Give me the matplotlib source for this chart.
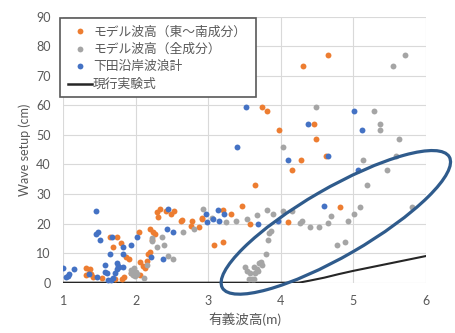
import matplotlib
matplotlib.use("Agg")
import matplotlib.pyplot as plt
from matplotlib.patches import Ellipse
from matplotlib.transforms import IdentityTransform
from matplotlib.lines import Line2D

plt.rcParams['font.family'] = ['Lato', 'Noto Sans CJK JP', 'DejaVu Sans']

# ---- data ----
orange_x = [1.31, 1.37, 1.35, 1.31, 1.38, 1.41, 1.53,
            1.64, 1.74, 1.69, 1.79, 1.86, 1.90, 1.71, 1.81, 1.84, 1.93, 2.06,
            2.05, 2.06, 2.10, 2.13, 2.15, 2.17, 2.20, 2.20, 2.24, 2.26, 2.22,
            2.29, 2.33, 2.31, 2.42, 2.49, 2.53, 2.63, 2.64, 2.77, 2.76, 2.87,
            2.91, 2.92, 3.21, 3.31, 3.08, 3.20, 3.47, 3.57, 3.65,
            3.74, 3.81, 3.98, 4.31, 4.65, 4.46, 4.48, 4.28, 4.15, 4.62,
            4.10, 4.82]
orange_y = [5.0, 4.5, 3.4, 2.6, 2.9, 2.0, 1.5,
            15.4, 15.6, 12.0, 13.4, 8.8, 7.9, 1.1, 1.1, 2.0, 3.3, 2.5,
            17.3, 7.0, 5.5, 5.0, 7.2, 9.6, 10.4, 18.0, 17.2, 16.4, 14.5,
            24.0, 24.9, 22.2, 24.1, 23.3, 24.1, 20.7, 21.2, 21.0, 19.2, 19.0,
            21.5, 21.8, 24.6, 23.2, 12.8, 13.7, 25.8, 20.0, 33.2,
            59.4, 58.0, 51.5, 73.2, 77.1, 53.5, 48.5, 41.4, 38.0, 42.7,
            20.6, 25.7]

gray_x = [1.94, 1.97, 2.00, 1.96, 1.99, 2.01, 1.93, 2.11, 2.16,
          2.22, 2.23, 2.29, 2.36, 2.39, 2.45, 2.51, 2.65, 2.80, 2.93, 3.05,
          3.24, 3.38, 3.53, 3.67, 3.81, 3.89, 4.03, 4.16, 4.29, 4.26, 4.40,
          4.53, 4.65, 4.70, 4.93, 5.01, 5.10, 5.81, 4.77, 4.89,
          3.86, 3.84, 3.82, 3.79, 3.73, 3.70, 3.74, 3.67, 3.63, 3.69,
          3.51, 3.54, 3.58, 3.64, 3.56, 3.60, 3.63,
          4.03, 4.48, 5.28, 5.37, 5.37, 5.63, 5.59, 5.46, 5.19, 5.14,
          5.55, 5.72]
gray_y = [4.3, 4.9, 3.7, 2.6, 2.3, 2.8, 3.2, 1.6, 6.0,
          15.0, 14.1, 12.0, 15.6, 12.8, 9.1, 7.9, 17.3, 18.1, 24.9, 21.8,
          20.5, 21.0, 21.5, 22.9, 24.6, 23.1, 24.1, 24.1, 21.0, 20.1, 19.0,
          19.0, 20.1, 22.6, 20.7, 23.2, 25.6, 25.6, 12.8, 13.7,
          17.5, 16.7, 14.5, 9.7, 7.1, 6.6, 6.0, 4.5, 5.2, 4.1,
          5.2, 4.1, 3.4, 3.2, 1.2, 1.2, 1.2,
          46.0, 59.4, 58.1, 53.5, 51.5, 48.5, 42.7, 38.0, 33.2, 41.5,
          73.1, 77.1]

blue_x = [1.00, 1.04, 1.06, 1.08, 1.15, 1.36, 1.45, 1.45, 1.48, 1.51, 1.47,
          1.58, 1.57, 1.60, 1.61, 1.66, 1.68, 1.65, 1.67, 1.74, 1.76, 1.74,
          1.77, 1.71, 1.82, 1.82, 1.82, 1.93, 2.02, 2.21, 2.38, 2.43, 2.44,
          2.52, 2.97, 2.98, 3.06, 3.13, 3.15, 3.22, 3.39, 3.52, 3.68, 3.96,
          4.10, 4.38, 4.60, 4.65, 5.01, 5.06, 5.12]
blue_y = [5.1, 2.0, 2.4, 2.8, 4.6, 3.0, 24.1, 16.5, 17.1, 14.5, 1.8,
          6.0, 3.7, 3.2, 1.0, 1.0, 1.5, 9.7, 15.4, 6.5, 5.5, 4.8,
          5.2, 3.4, 12.2, 9.7, 5.2, 12.8, 15.6, 8.8, 7.9, 18.2, 24.9,
          17.3, 23.3, 20.5, 21.5, 24.6, 20.8, 23.2, 45.9, 59.4, 20.0, 20.7,
          41.4, 53.5, 25.8, 42.7, 58.1, 38.0, 51.5]

line_x = [1.0, 4.0, 4.25, 4.4, 4.6, 4.8, 5.0, 5.2, 5.4, 5.6, 5.8, 6.0]
line_y = [0.0, 0.0, 0.0, 0.7, 1.7, 2.9, 4.0, 5.0, 6.0, 7.0, 8.0, 9.0]

labels = ['モデル波高（東～南成分）', 'モデル波高（全成分）', '下田沿岸波浪計', '現行実験式']
x_ticks = [1, 2, 3, 4, 5, 6]
y_ticks = [0, 10, 20, 30, 40, 50, 60, 70, 80, 90]

C_OR = '#ED7D31'
C_GR = '#A5A5A5'
C_BL = '#4472C4'
C_LN = '#262626'
TXT = '#595959'

fig = plt.figure(figsize=(4.55, 3.33), dpi=100)
ax = fig.add_axes([63.3 / 455, 1 - 282.7 / 333, (425.7 - 63.3) / 455, (282.7 - 16.5) / 333])

ax.set_xlim(1, 6)
ax.set_ylim(0, 90)
ax.set_xticks(x_ticks)
ax.set_yticks(y_ticks)
ax.grid(True, color='#D9D9D9', lw=0.8)
ax.set_axisbelow(True)
for s in ax.spines.values():
    s.set_visible(False)
ax.tick_params(length=0, labelsize=9, colors=TXT, pad=9)

ax.plot(line_x, line_y, color=C_LN, lw=1.5, zorder=2)
ax.scatter(orange_x, orange_y, s=18, color=C_OR, zorder=3, linewidths=0)
ax.scatter(gray_x, gray_y, s=18, color=C_GR, zorder=4, linewidths=0)
ax.scatter(blue_x, blue_y, s=18, color=C_BL, zorder=5, linewidths=0)

ax.set_ylabel('Wave setup (cm)', fontsize=9, color=TXT, labelpad=4)
ax.set_xlabel('有義波高(m)', fontsize=9.8, color=TXT, labelpad=4)

handles = [
    Line2D([], [], ls='none', marker='o', ms=4.2, color=C_OR, mec='none'),
    Line2D([], [], ls='none', marker='o', ms=4.2, color=C_GR, mec='none'),
    Line2D([], [], ls='none', marker='o', ms=4.2, color=C_BL, mec='none'),
    Line2D([], [], color=C_LN, lw=1.8),
]
L, T, R, B = 60.5, 18.3, 256.0, 95.0
leg = ax.legend(handles, labels, loc='upper left', mode='expand',
                bbox_to_anchor=(L / 455, 1 - B / 333, (R - L) / 455, (B - T) / 333),
                bbox_transform=fig.transFigure,
                fontsize=9.2, frameon=True, fancybox=False, framealpha=1,
                edgecolor='#595959', borderpad=0.55, handlelength=1.9,
                handletextpad=0.1, labelspacing=0.42, borderaxespad=0)
leg.get_frame().set_linewidth(1.2)
for t in leg.get_texts():
    t.set_color(TXT)
leg.set_zorder(10)

# annotation ellipse (hand-drawn highlight), centered in data coords
fig.canvas.draw()
cx, cy = ax.transData.transform((4.76, 20.4))
ell = Ellipse((cx, cy), 262, 68, angle=30, transform=IdentityTransform(),
              fill=False, edgecolor='#2F5B8C', lw=2.3, zorder=20, clip_on=False)
fig.add_artist(ell)

fig.savefig('out.png', dpi=100)
